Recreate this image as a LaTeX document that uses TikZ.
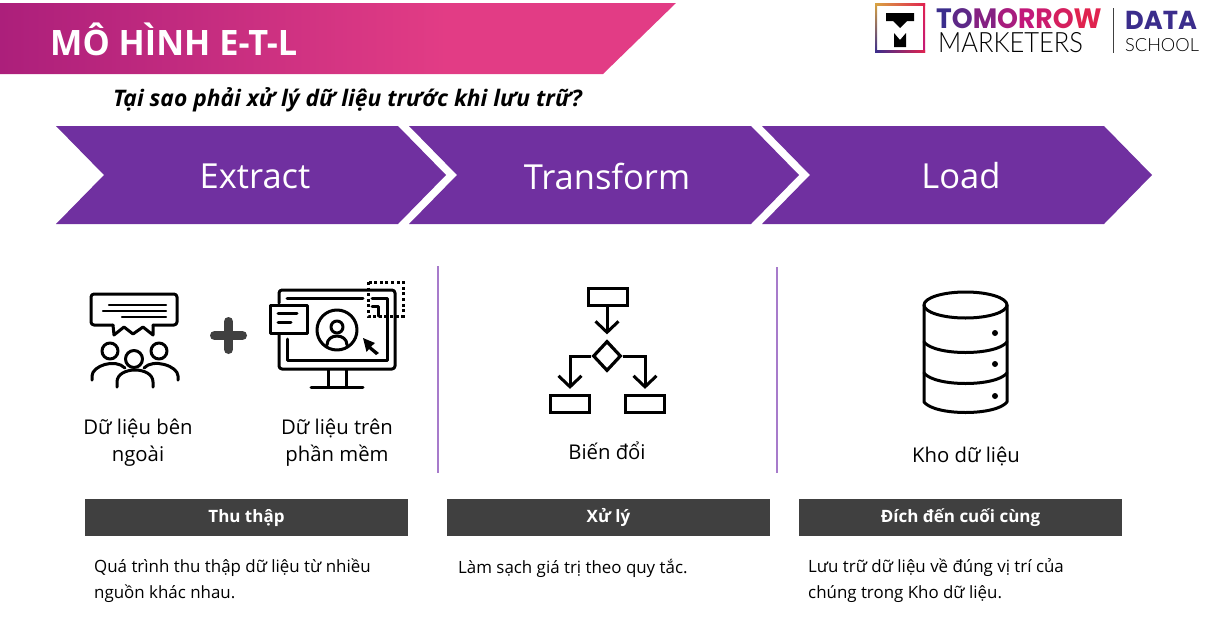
\documentclass[tikz,border=0pt]{standalone}
\usepackage{fontspec}
\setmainfont{Open Sans}
\newfontfamily\logobold{Poppins}[BoldFont=* Bold]
\newfontfamily\logolight{Lato Light}
\usetikzlibrary{arrows.meta,shapes.geometric}

\definecolor{etlpurple}{HTML}{7030A0}
\definecolor{etlrule}{HTML}{A77BCB}
\definecolor{etldark}{HTML}{404040}
\definecolor{bannerleft}{HTML}{AC1F7B}
\definecolor{bannerright}{HTML}{E23C85}
\definecolor{logoblue}{HTML}{3B2D8C}
\definecolor{logogold}{HTML}{D9A441}
\definecolor{logored}{HTML}{E0234F}
\definecolor{logopink}{HTML}{C2187A}

\pgfdeclarehorizontalshading{bannershade}{100bp}{color(0bp)=(bannerleft); color(25bp)=(bannerleft); color(58bp)=(bannerright); color(100bp)=(bannerright)}

\newcommand{\fsz}[2][0]{\fontsize{#2}{\ifdim#1pt=0pt #2\else #1\fi}\selectfont}

\tikzset{
  chevlabel/.style={text=white, font=\fsz{34.5}},
  iconlabel/.style={align=center, font=\fsz[27]{20.3}},
  barbox/.style={fill=etldark, text=white, font=\fsz{17}\bfseries, minimum width=323, minimum height=37, inner sep=0, text height=14, text depth=4},
  desc/.style={anchor=west, align=left, inner sep=0, font=\fsz[26]{16.9}},
  icon/.style={line width=3, line cap=round, line join=round},
  flowbox/.style={draw, line width=3.2, minimum width=39, minimum height=17, inner sep=0},
  flowarrow/.style={line width=3, -{Straight Barb[length=11pt, width=23pt, line width=3]}, shorten >=5pt}
}

\begin{document}
\begin{tikzpicture}[x=1pt, y=-1pt]

\useasboundingbox (0,0) rectangle (1208,632);

\shade[shading=bannershade] (0,3) -- (676,3) -- (603,74) -- (0,74) -- cycle;
\node[anchor=west, inner sep=0, text=white, font=\fsz{35}\bfseries, xscale=0.98] at (50,39.5) (title) {MÔ HÌNH E-T-L};
\node[anchor=west, inner sep=0, font=\fsz{22.8}\bfseries\itshape] at (113,99.5) (question) {Tại sao phải xử lý dữ liệu trước khi lưu trữ?};

\foreach \x in {56,409,762}
  \fill[etlpurple] (\x,126) -- (\x+342,126) -- (\x+390,175) -- (\x+342,224) -- (\x,224) -- (\x+48,175) -- cycle;

\node[chevlabel] at (255,176) (extract) {Extract};
\node[chevlabel] at (607,176) (transform) {Transform};
\node[chevlabel] at (961,176) (load) {Load};

\shade[left color=logogold, right color=logored] (875,3) rectangle (925,5);
\shade[top color=logored, bottom color=logopink] (923,3) rectangle (925,52);
\shade[left color=logoblue, right color=logored] (875,50) rectangle (925,52);
\shade[top color=logogold, bottom color=logoblue] (875,3) rectangle (877,52);
\fill (886,13) -- (914,13) -- (914,21) -- (907,21) -- (900,28) -- (893,21) -- (886,21) -- cycle;
\fill (894,33) -- (900,40) -- (906,33) -- (906,47) -- (894,47) -- cycle;

\node[anchor=west, inner sep=0, font=\fsz{28}\logobold\bfseries, xscale=0.95] at (936,19) (tomorrow)
  {\textcolor{logoblue}{T}\textcolor{logoblue!75!logopink}{O}\textcolor{logoblue!45!logopink}{M}\textcolor{logoblue!20!logopink}{O}\textcolor{logopink}{R}\textcolor{logopink!70!logored}{R}\textcolor{logopink!35!logored}{O}\textcolor{logored}{W}};
\node[anchor=west, inner sep=0, font=\fsz{28}\logolight, xscale=0.91] at (938,42.5) (marketers) {MARKETERS};
\draw[etldark, line width=1] (1113,8) -- (1113,53);
\node[anchor=west, inner sep=0, font=\fsz{26}\logobold\bfseries, text=logoblue, xscale=0.99] at (1125,20) (data) {DATA};
\node[anchor=west, inner sep=0, font=\fsz{18.2}\logolight] at (1125,45.5) (school) {SCHOOL};

\draw[icon, rounded corners=3] (113,325) -- (91,325) -- (91,294) -- (177,294) -- (177,325) -- (153,325);
\draw[icon] (113,325) -- (114,335) -- (124,327) -- (133,334) -- (143,327) -- (153,335) -- (153,325);
\draw[icon, line width=2.2] (109,305) -- (166,305);
\draw[icon, line width=2.2] (103,311) -- (166,311);
\draw[icon, line width=2.2] (122,317) -- (166,317);
\draw[icon] (110,351) circle (8);
\draw[icon] (134,359) circle (8.5);
\draw[icon] (159,351) circle (8);
\draw[icon] (92,380) -- (92,376) .. controls (92,366) and (115,358) .. (125,368);
\draw[icon] (117,387) -- (117,382) .. controls (117,366) and (153,366) .. (153,382) -- (153,387);
\draw[icon] (144,368) .. controls (153,358) and (178,366) .. (178,376) -- (178,380);

\draw[etldark, line width=9, line cap=round] (228.5,321.5) -- (228.5,349.5);
\draw[etldark, line width=9, line cap=round] (214.5,335.5) -- (242.5,335.5);

\draw[icon, rounded corners=3] (279,303) -- (279,290) -- (395,290) -- (395,369) -- (279,369) -- (279,335);
\draw[icon] (287,298) -- (363,298);
\draw[icon] (372,298) -- (387,298) -- (387,360) -- (287,360) -- (287,339);
\draw[icon] (372,306) -- (378,306) -- (378,316);
\draw[icon, fill=white, line cap=butt] (270,305) rectangle (307,333);
\draw[icon] (278,313) -- (297,313);
\draw[icon] (278,322) -- (291,322);
\draw[line width=3, dash pattern=on 3 off 2.6] (368,282) rectangle (403,316);
\draw[icon] (337,330) circle (20);
\draw[icon] (337,327) circle (6);
\draw[icon] (327,345) .. controls (327,333) and (347,333) .. (347,345);
\fill (363,338) -- (375,343) -- (371,346.5) -- (379,353) -- (376,355) -- (369,349) -- (366.5,352) -- cycle;
\draw[icon] (328,370) -- (328,387);
\draw[icon] (346,370) -- (346,387);
\draw[icon] (311,387) -- (363,387);

\node[iconlabel] at (138,442.5) (external) {Dữ liệu bên\\ngoài};
\node[iconlabel] at (337,442.5) (software) {Dữ liệu trên\\phần mềm};

\draw[etlrule, line width=1.2] (438,266) -- (438,473);
\draw[etlrule, line width=1.2] (777,267) -- (777,473);

\node[flowbox] at (608,297) (flowtop) {};
\node[draw, diamond, line width=3.2, minimum width=28, minimum height=30, inner sep=0] at (607,356) (flowdec) {};
\node[flowbox] at (570,404) (flowleft) {};
\node[flowbox] at (645,404) (flowright) {};
\draw[flowarrow] (flowdec.north |- flowtop.south) -- (flowdec.north);
\draw[flowarrow] (flowdec.west) -| (flowleft.north);
\draw[flowarrow] (flowdec.east) -| (flowright.north);
\node[iconlabel] at (607,451) (biendoi) {Biến đổi};

\draw[icon] (965.5,305) ellipse (41.5 and 13);
\draw[icon] (924,305) -- (924,402) .. controls (935,416) and (996,416) .. (1007,402) -- (1007,305);
\draw[icon] (924,342) .. controls (935,356) and (996,356) .. (1007,342);
\draw[icon] (924,373) .. controls (935,387) and (996,387) .. (1007,373);
\foreach \y in {333,364,396}
  \fill (995,\y) circle (3);
\node[iconlabel] at (966,456) (kho) {Kho dữ liệu};

\node[barbox] at (246.5,517.5) (thuthap) {Thu thập};
\node[barbox] at (608.5,517.5) (xuly) {Xử lý};
\node[barbox] at (960.5,517.5) (dich) {Đích đến cuối cùng};

\node[desc] at (94,581) (desca) {Quá trình thu thập dữ liệu từ nhiều\\nguồn khác nhau.};
\node[desc] at (458,568) (descb) {Làm sạch giá trị theo quy tắc.};
\node[desc] at (808,581) (descc) {Lưu trữ dữ liệu về đúng vị trí của\\chúng trong Kho dữ liệu.};

\end{tikzpicture}
\end{document}
